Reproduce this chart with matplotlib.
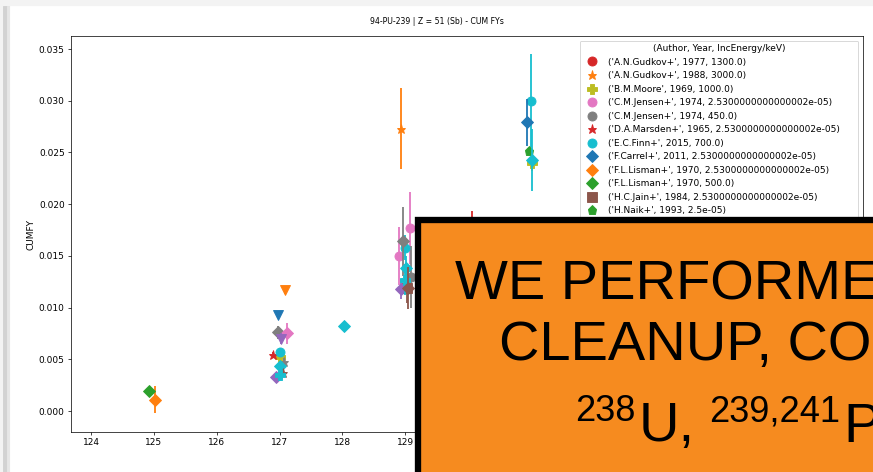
"""
Cumulative fission yields of Sb (Z = 51) from Pu-239, by experiment,
shown behind a slide callout box.

Output: out.png
"""
import matplotlib
matplotlib.use("Agg")
import matplotlib.pyplot as plt
from matplotlib.patches import Rectangle

DPI = 65
W_PX, H_PX = 873, 472

TITLE = "94-PU-239 | Z = 51 (Sb) - CUM FYs"
LEGEND_TITLE = "(Author, Year, IncEnergy/keV)"

# one entry per experiment: label, marker, colour, mass numbers, yields, errors
labels = [
    "('A.N.Gudkov+', 1977, 1300.0)",
    "('A.N.Gudkov+', 1988, 3000.0)",
    "('B.M.Moore', 1969, 1000.0)",
    "('C.M.Jensen+', 1974, 2.5300000000000002e-05)",
    "('C.M.Jensen+', 1974, 450.0)",
    "('D.A.Marsden+', 1965, 2.5300000000000002e-05)",
    "('E.C.Finn+', 2015, 700.0)",
    "('F.Carrel+', 2011, 2.5300000000000002e-05)",
    "('F.L.Lisman+', 1970, 2.5300000000000002e-05)",
    "('F.L.Lisman+', 1970, 500.0)",
    "('H.C.Jain+', 1984, 2.5300000000000002e-05)",
    "('H.Naik+', 1993, 2.5e-05)",
    # rows below are hidden behind the callout box
    "('(hidden row 13)+', 1970, 2.5300000000000002e-05)",
    "(hidden 14)", "(hidden 15)", "(hidden 16)",
    "(hidden 17)", "(hidden 18)", "(hidden 19)", "(hidden 20)",
    "(hidden 21)", "(hidden 22)", "(hidden 23)", "(hidden 24)",
]
markers = ["o", "*", "P", "o", "o", "*", "o", "D", "D", "D", "s", "p",
           "v", "D", "v", "v", "D", "D", "v", "*", "D", "*", "P", "D"]
colors = ["C3", "C1", "C8", "C6", "C7", "C3", "C9", "C0", "C1", "C2", "C5", "C2",
          "C3", "C4", "C0", "C1", "C7", "C6", "C4", "C7", "C9", "C5", "C9", "C5"]
mass = [
    [130.07], [128.94], [127.0, 131.02], [128.91, 129.08], [129.10],
    [126.89], [127.0, 129.0, 131.0], [130.94], [125.02], [124.92],
    [129.03], [130.97],
    [130.5], [126.95, 128.94], [126.98], [127.08], [126.98, 128.97],
    [127.12], [127.03], [127.07], [127.0, 128.02, 129.02, 131.02],
    [127.05], [127.0, 129.0], [129.05],
]
cumfy = [
    [0.0165], [0.0273], [0.0052, 0.0240], [0.0150, 0.0177], [0.0130],
    [0.0054], [0.0057, 0.0158, 0.0300], [0.0279], [0.0011], [0.0019],
    [0.0119], [0.0251],
    [0.0120], [0.0033, 0.0118], [0.0093], [0.0117], [0.0076, 0.0164],
    [0.0075], [0.0070], [0.0047], [0.0044, 0.0082, 0.0138, 0.0243],
    [0.0037], [0.0035, 0.0127], [0.0119],
]
cumfy_err = [
    [0.0028], [0.0039], [0.0004, 0.0008], [0.0028, 0.0035], [0.0030],
    [0.0003], [0.0004, 0.0012, 0.0045], [0.0023], [0.0013], [0.0002],
    [0.0015], [0.0003],
    [0.0010], [0.0002, 0.0010], [0.0003], [0.0004], [0.0006, 0.0033],
    [0.0010], [0.0005], [0.0004], [0.0004, 0.0003, 0.0012, 0.0030],
    [0.0003], [0.0003, 0.0015], [0.0020],
]

BOX_LINES = ["WE PERFORMED DATA", "CLEANUP, CORRECTIONS"]
# third line: isotopes with superscript mass numbers
ISO_PARTS = [("238", True), ("U,", False), ("239,241", True), ("Pu", False)]
ISO_X = [575, 639, 709, 843]


def px_x(x):
    return x / W_PX


def px_y(y):
    return 1 - y / H_PX


fig = plt.figure(figsize=(W_PX / DPI, H_PX / DPI), dpi=DPI, facecolor="#f3f3f3")

# slide card with a soft shadow on the left
fig.patches.append(Rectangle((px_x(3), -0.1), 1.2, px_y(6) + 0.1,
                             transform=fig.transFigure, color="#d2d2d2", zorder=-3))
fig.patches.append(Rectangle((px_x(7), -0.1), 1.2, px_y(6) + 0.1,
                             transform=fig.transFigure, color="#e6e6e6", zorder=-2))
fig.patches.append(Rectangle((px_x(10), -0.1), 1.2, px_y(6) + 0.1,
                             transform=fig.transFigure, color="white", zorder=-1))

ax = fig.add_axes([px_x(71), px_y(432), (863 - 71) / W_PX, (432 - 36) / H_PX])

for lab, mk, c, xs, ys, es in zip(labels, markers, colors, mass, cumfy, cumfy_err):
    ax.errorbar(xs, ys, yerr=es, fmt="none", ecolor=c, elinewidth=2)
    ax.plot(xs, ys, linestyle="none", marker=mk, color=c, ms=10, label=lab)

ax.set_xlim(123.68, 136.29)
ax.set_ylim(-0.00203, 0.03626)
ax.set_xticks(range(124, 137))
ax.set_yticks([0.0, 0.005, 0.01, 0.015, 0.02, 0.025, 0.03, 0.035])
ax.set_yticklabels([f"{v:.3f}" for v in ax.get_yticks()])
ax.set_ylabel("CUMFY")
ax.legend(title=LEGEND_TITLE, loc="upper right")

fig.text(px_x(437), px_y(22), TITLE, ha="center", va="center", fontsize=8.6)

# orange callout box laid over the plot
fig.patches.append(Rectangle((px_x(417.5), -0.2), 1.0, px_y(220) + 0.2,
                             transform=fig.transFigure, facecolor="#f68b1f",
                             edgecolor="black", linewidth=7, zorder=10))
box_font = dict(family="Liberation Sans", color="black",
                ha="left", va="baseline", zorder=11)
fig.text(px_x(455), px_y(300), BOX_LINES[0], fontsize=62, **box_font)
fig.text(px_x(499), px_y(360), BOX_LINES[1], fontsize=62, **box_font)
for (part, sup), x in zip(ISO_PARTS, ISO_X):
    if sup:
        fig.text(px_x(x), px_y(421), part, fontsize=40, **box_font)
    else:
        fig.text(px_x(x), px_y(441), part, fontsize=62, **box_font)

fig.savefig("out.png", dpi=DPI)
